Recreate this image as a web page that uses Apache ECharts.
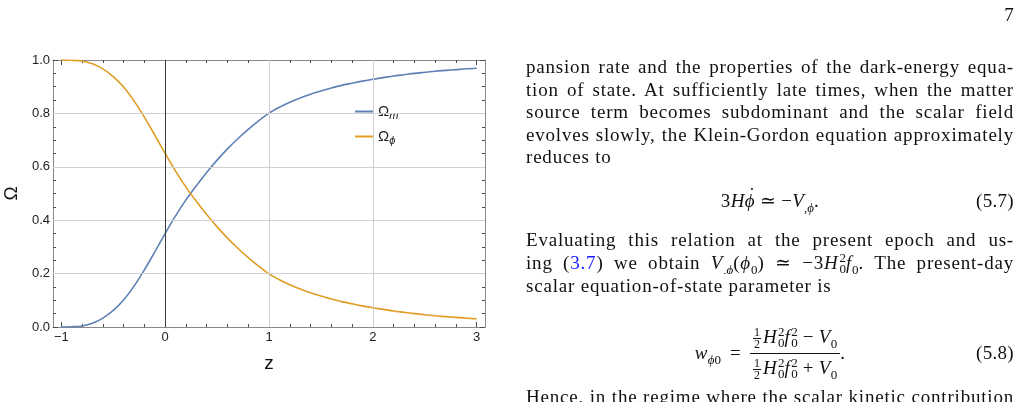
<!DOCTYPE html>
<html>
<head>
<meta charset="utf-8">
<script src="https://cdn.jsdelivr.net/npm/echarts@6.0.0/dist/echarts.min.js"></script>
<style>
html,body{margin:0;padding:0;background:#fff;width:1022px;height:402px;overflow:hidden;}
#chart{position:absolute;left:0;top:0;width:1022px;height:402px;}
.t{position:absolute;font-family:"Liberation Serif","DejaVu Serif",serif;font-size:19px;letter-spacing:0.8px;color:#111;line-height:22px;white-space:nowrap;}
.j{left:526px;width:488px;height:22px;overflow:hidden;text-align:justify;text-align-last:justify;white-space:normal;}
.l{left:526px;}
.c{left:526px;width:488px;display:flex;justify-content:center;align-items:center;letter-spacing:0.3px;}
.r{right:8px;letter-spacing:0.3px;}
sub,sup{font-size:13px;line-height:0;letter-spacing:0;}
.ss{display:inline-flex;flex-direction:column;font-size:13px;line-height:11px;vertical-align:7px;margin-left:1px;letter-spacing:0;}
.half{display:inline-flex;flex-direction:column;align-items:center;font-size:12px;line-height:11px;vertical-align:7px;margin-right:2px;letter-spacing:0;}
.half span:first-child{border-bottom:1px solid #111;padding:0 1px;}
.frac{display:inline-flex;flex-direction:column;align-items:center;}
.frac .fn{border-bottom:1px solid #111;padding:0 3px 3px 3px;line-height:20px;}
.frac .fd{padding:3px 3px 0 3px;line-height:20px;}
.dot{position:relative;display:inline-block;}
.dot b{position:absolute;left:4px;top:-6px;font-weight:normal;font-style:normal;}
.blue{color:#1a1aff;}
</style>
</head>
<body>
<div id="chart"></div>

<div class="t r" style="top:4px;">7</div>
<div class="t j" style="top:56px;">pansion rate and the properties of the dark-energy equa-</div>
<div class="t j" style="top:78.5px;">tion of state. At sufficiently late times, when the matter</div>
<div class="t j" style="top:101px;">source term becomes subdominant and the scalar field</div>
<div class="t j" style="top:123.5px;">evolves slowly, the Klein-Gordon equation approximately</div>
<div class="t l" style="top:146px;">reduces to</div>
<div class="t c" style="top:189px;height:24px;"><span>3<i>H</i><span class="dot"><i>ϕ</i><b>˙</b></span>&nbsp;≃&nbsp;−<i>V</i><sub>,<i>ϕ</i></sub>.</span></div>
<div class="t r" style="top:190px;">(5.7)</div>
<div class="t j" style="top:229px;">Evaluating this relation at the present epoch and us-</div>
<div class="t j" style="top:252px;">ing (<span class="blue">3.7</span>) we obtain <i>V</i><sub>,<i>ϕ</i></sub>(<i>ϕ</i><sub>0</sub>) ≃ −3<i>H</i><span class="ss"><span>2</span><span>0</span></span><i>f</i><sub>0</sub>. The present-day</div>
<div class="t l" style="top:275px;">scalar equation-of-state parameter is</div>
<div class="t c" style="top:330px;height:46px;">
  <span><i>w</i><sub><i>ϕ</i>0</sub></span>
  <span style="margin:0 9px;">=</span>
  <span class="frac">
    <span class="fn"><span class="half"><span>1</span><span>2</span></span><i>H</i><span class="ss"><span>2</span><span>0</span></span><i>f</i><span class="ss"><span>2</span><span>0</span></span>&nbsp;−&nbsp;<i>V</i><sub>0</sub></span>
    <span class="fd"><span class="half"><span>1</span><span>2</span></span><i>H</i><span class="ss"><span>2</span><span>0</span></span><i>f</i><span class="ss"><span>2</span><span>0</span></span>&nbsp;+&nbsp;<i>V</i><sub>0</sub></span>
  </span>
  <span>.</span>
</div>
<div class="t r" style="top:342px;">(5.8)</div>
<div class="t j" style="top:386px;height:22px;">Hence, in the regime where the scalar kinetic contribution</div>

<script>
// ---- data ----
const zValues = [-1.0,-0.9,-0.8,-0.7,-0.6,-0.5,-0.4,-0.3,-0.2,-0.1,
  0.0,0.1,0.2,0.3,0.4,0.5,0.6,0.7,0.8,0.9,
  1.0,1.1,1.2,1.3,1.4,1.5,1.6,1.7,1.8,1.9,
  2.0,2.1,2.2,2.3,2.4,2.5,2.6,2.7,2.8,2.9,3.0];
const omegaM = [0.000,0.001,0.004,0.014,0.033,0.062,0.101,0.153,0.214,0.281,
  0.350,0.416,0.476,0.529,0.579,0.625,0.667,0.705,0.740,0.772,
  0.801,0.823,0.842,0.858,0.872,0.884,0.895,0.905,0.913,0.921,
  0.928,0.934,0.940,0.945,0.950,0.954,0.958,0.961,0.964,0.967,0.969];
const omegaPhi = [1.000,0.999,0.996,0.986,0.967,0.938,0.899,0.847,0.786,0.719,
  0.650,0.584,0.524,0.471,0.421,0.375,0.333,0.295,0.260,0.228,
  0.199,0.177,0.158,0.142,0.128,0.116,0.105,0.095,0.087,0.079,
  0.072,0.066,0.060,0.055,0.050,0.046,0.042,0.039,0.036,0.033,0.031];
const seriesNames = ['Ω_m','Ω_ϕ'];
const xMajorTicks = [-1,0,1,2,3];
const xMinorTicks = [-0.8,-0.6,-0.4,-0.2,0.2,0.4,0.6,0.8,1.2,1.4,1.6,1.8,2.2,2.4,2.6,2.8];
const gridZ = [1,2];
const gridOmega = [0.2,0.4,0.6,0.8];
const zeroLineZ = [0];

// ---- styling ----
const X_MIN = -1.08, X_MAX = 3.08;
const frameColor = '#8a8a8a';
const tickColor = '#4d4d4d';
const labelColor = '#222';
const sans = 'Liberation Sans, Arial, sans-serif';
const blue = '#5E81B5', orange = '#E19C24';

function xAxisDef(position, major, withLine, withLabel) {
  const a = {
    type: 'value', min: X_MIN, max: X_MAX, position: position, gridIndex: 0,
    splitLine: { show: false },
    axisLine: { show: withLine, onZero: false, lineStyle: { color: frameColor, width: 1 } },
    axisTick: { show: true, inside: true, length: major ? 5 : 3,
      customValues: major ? xMajorTicks : xMinorTicks,
      lineStyle: { color: tickColor, width: 1 } },
    axisLabel: { show: false }
  };
  if (withLabel) {
    a.axisLabel = { show: true, customValues: xMajorTicks, margin: 4,
      formatter: v => (v < 0 ? '−' + Math.abs(v) : String(v)),
      color: labelColor, fontSize: 13, fontFamily: sans };
    a.name = 'z';
    a.nameLocation = 'middle';
    a.nameGap = 27;
    a.nameTextStyle = { fontSize: 19, color: '#111', fontFamily: sans };
  }
  return a;
}
function yAxisDef(position, withLabel) {
  const a = {
    type: 'value', min: 0, max: 1, interval: 0.2, position: position, gridIndex: 0,
    splitLine: { show: false },
    axisLine: { show: true, onZero: false, lineStyle: { color: frameColor, width: 1 } },
    axisTick: { show: true, inside: true, length: 5, lineStyle: { color: tickColor, width: 1 } },
    minorTick: { show: true, splitNumber: 4, length: 3, lineStyle: { color: tickColor, width: 1 } },
    axisLabel: { show: false }
  };
  if (withLabel) {
    a.axisLabel = { show: true, margin: 3, formatter: v => v.toFixed(1),
      color: labelColor, fontSize: 13, fontFamily: sans };
    a.name = 'Ω';
    a.nameLocation = 'middle';
    a.nameGap = 32;
    a.nameTextStyle = { fontSize: 19, color: '#111', fontFamily: sans };
  }
  return a;
}

const chart = echarts.init(document.getElementById('chart'), null, { renderer: 'canvas' });
const gridLines = [
  ...gridZ.map(v => ({ xAxis: v })),
  ...gridOmega.map(v => ({ yAxis: v })),
  ...zeroLineZ.map(v => ({ xAxis: v, lineStyle: { color: '#3a3a3a', width: 1 } }))
];
chart.setOption({
  animation: false,
  backgroundColor: 'transparent',
  grid: { left: 53, right: 537, top: 60, bottom: 75, containLabel: false },
  xAxis: [
    xAxisDef('bottom', true, true, true),
    xAxisDef('bottom', false, false, false),
    xAxisDef('top', true, true, false),
    xAxisDef('top', false, false, false)
  ],
  yAxis: [yAxisDef('left', true), yAxisDef('right', false)],
  legend: {
    data: seriesNames, orient: 'vertical', left: 355, top: 104, padding: 0,
    icon: 'rect', itemWidth: 18, itemHeight: 2, itemGap: 8,
    selectedMode: false,
    formatter: n => n === 'Ω_m' ? '{b|Ω}{s|m}' : '{b|Ω}{s|ϕ}',
    textStyle: { rich: {
      b: { fontSize: 15, color: labelColor, fontFamily: sans, lineHeight: 19 },
      s: { fontSize: 11, color: labelColor, fontStyle: 'italic', fontFamily: sans, lineHeight: 11, verticalAlign: 'bottom' }
    } }
  },
  series: [
    { type: 'line', name: 'grid', data: [], silent: true, z: 1,
      markLine: { silent: true, symbol: ['none', 'none'], label: { show: false },
        lineStyle: { color: '#d0d0d0', width: 1, type: 'solid' }, data: gridLines } },
    { type: 'line', name: seriesNames[0], xAxisIndex: 0, yAxisIndex: 0, z: 3,
      data: zValues.map((z, i) => [z, omegaM[i]]), showSymbol: false, smooth: 0.3,
      lineStyle: { color: blue, width: 1.6 }, itemStyle: { color: blue }, emphasis: { disabled: true } },
    { type: 'line', name: seriesNames[1], xAxisIndex: 0, yAxisIndex: 0, z: 3,
      data: zValues.map((z, i) => [z, omegaPhi[i]]), showSymbol: false, smooth: 0.3,
      lineStyle: { color: orange, width: 1.6 }, itemStyle: { color: orange }, emphasis: { disabled: true } }
  ]
});
</script>
</body>
</html>
